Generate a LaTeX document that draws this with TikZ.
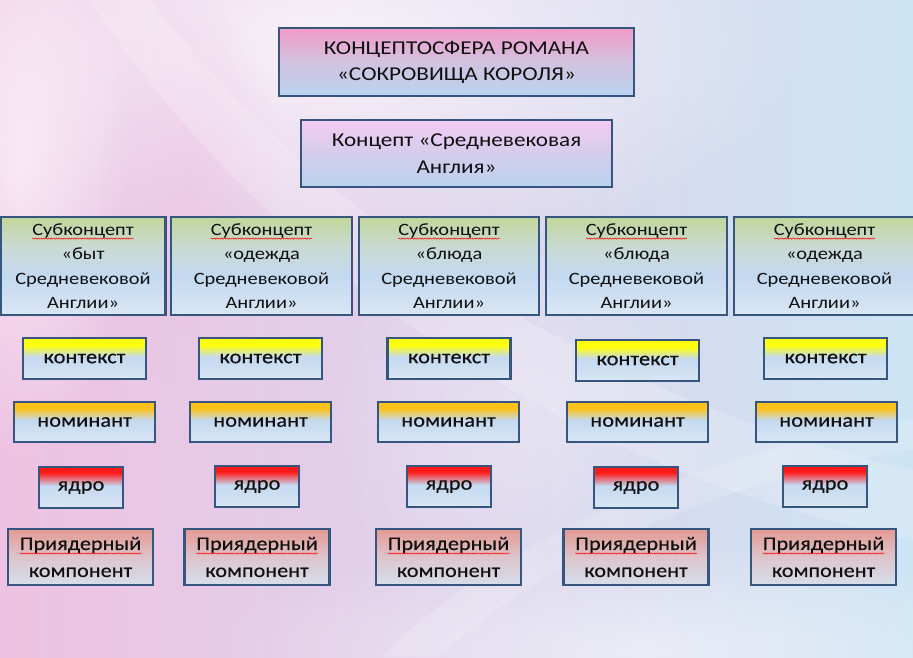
\documentclass[tikz,border=0pt]{standalone}
\usepackage{fontspec}
\setmainfont[FakeStretch=1.18]{Carlito}
\newfontfamily\heavy[FakeStretch=1.15, FakeBold=0.4]{Carlito}
\usetikzlibrary{decorations.pathmorphing,fadings}
\definecolor{bord}{HTML}{37567F}
\definecolor{txt}{HTML}{101010}
\definecolor{lb}{HTML}{C4D9F0}
\definecolor{lbw}{HTML}{D9E6F4}
\definecolor{pinkt}{HTML}{F39BC7}
\definecolor{lavm}{HTML}{D2C2E0}
\definecolor{lbb}{HTML}{BAD3EE}
\definecolor{pinkl}{HTML}{F4CBF4}
\definecolor{lavl}{HTML}{D7CCEC}
\definecolor{olive}{HTML}{C2D69A}
\definecolor{olm}{HTML}{C9DAD2}
\definecolor{yel}{HTML}{FFFF10}
\definecolor{orng}{HTML}{FDC21A}
\definecolor{redc}{HTML}{FF1A1A}
\definecolor{salm}{HTML}{E49A92}
\definecolor{salmm}{HTML}{DDC4CB}
\definecolor{grb}{HTML}{D5DFEC}
\definecolor{bgl}{HTML}{EEC2E2}
\definecolor{bgm}{HTML}{E6D6EE}
\definecolor{bgr}{HTML}{CDE4F4}
\pgfdeclareverticalshading{topsh}{100bp}{color(0bp)=(lbb); color(25bp)=(lbb); color(50bp)=(lavm); color(75bp)=(pinkt); color(100bp)=(pinkt)}
\pgfdeclareverticalshading{consh}{100bp}{color(0bp)=(lbb); color(25bp)=(lbb); color(52bp)=(lavl); color(75bp)=(pinkl); color(100bp)=(pinkl)}
\pgfdeclareverticalshading{subsh}{100bp}{color(0bp)=(lbw); color(25bp)=(lbw); color(45bp)=(lb); color(60bp)=(olm); color(75bp)=(olive); color(100bp)=(olive)}
\pgfdeclareverticalshading{ctxsh}{100bp}{color(0bp)=(lbw); color(25bp)=(lbw); color(52bp)=(lb); color(66bp)=(yel); color(100bp)=(yel)}
\pgfdeclareverticalshading{nomsh}{100bp}{color(0bp)=(lbw); color(25bp)=(lbw); color(52bp)=(lb); color(67bp)=(orng); color(100bp)=(orng)}
\pgfdeclareverticalshading{coresh}{100bp}{color(0bp)=(lbw); color(25bp)=(lbw); color(52bp)=(lb); color(68bp)=(redc); color(100bp)=(redc)}
\pgfdeclareverticalshading{prish}{100bp}{color(0bp)=(grb); color(25bp)=(grb); color(50bp)=(salmm); color(75bp)=(salm); color(100bp)=(salm)}
\tikzfading[name=fadeC, inner color=transparent!0, outer color=transparent!100]
\tikzset{
  wavy/.style={draw=red, line width=0.5pt, decorate, decoration={snake, amplitude=0.6pt, segment length=2.6pt}},
  bx/.style={draw=bord, line width=2.3pt, inner sep=0pt, align=center, text=txt},
  topbox/.style={bx, shading=topsh, minimum width=355pt, minimum height=68pt, font=\fontsize{19.6}{26}\selectfont},
  conbox/.style={bx, shading=consh, minimum width=311pt, minimum height=67pt, font=\fontsize{19.6}{27}\selectfont},
  subbox/.style={bx, shading=subsh, minimum height=98pt, font=\fontsize{17.3}{24.5}\selectfont},
  ctxbox/.style={bx, shading=ctxsh, minimum width=123pt, minimum height=41pt, font=\heavy\fontsize{19.5}{20}\selectfont},
  nombox/.style={bx, shading=nomsh, minimum width=141pt, minimum height=40pt, font=\heavy\fontsize{19.5}{20}\selectfont},
  corebox/.style={bx, shading=coresh, minimum width=84pt, minimum height=41pt, font=\heavy\fontsize{19.5}{20}\selectfont},
  pribox/.style={bx, shading=prish, minimum width=145pt, minimum height=56pt, font=\heavy\fontsize{19.3}{27}\selectfont},
  blob/.style={fill=white, path fading=fadeC},
}
\newcommand\wv[1]{\tikz[baseline=(wvn.base)]{\node[inner sep=0pt,outer sep=0pt,minimum width=0pt,minimum height=0pt,draw=none,fill=none](wvn){#1};\draw[wavy] ([yshift=-3.5pt]wvn.base west) -- ([yshift=-3.5pt]wvn.base east);}}
\begin{document}
\begin{tikzpicture}[x=1pt,y=-1pt]
\useasboundingbox (0,0) rectangle (913,657);
% background
\shade[left color=bgl, middle color=bgm, right color=bgr] (0,0) rectangle (913,657);
\fill[blob, opacity=0.75] (330,40) ellipse [x radius=480, y radius=230];
\fill[blob, opacity=0.6] (20,160) ellipse [x radius=110, y radius=300];
\fill[bgl, path fading=fadeC, opacity=0.5] (190,190) ellipse [x radius=90, y radius=200];
\fill[blob, opacity=0.5] (640,650) ellipse [x radius=430, y radius=110];
\fill[blob, opacity=0.3] (520,420) ellipse [x radius=200, y radius=200];
\fill[white, opacity=0.18] (150,0) .. controls (320,220) and (600,400) .. (913,470) -- (913,540) .. controls (560,470) and (260,260) .. (90,0) -- cycle;
\fill[white, opacity=0.15] (380,657) .. controls (500,540) and (700,450) .. (913,420) -- (913,450) .. controls (720,480) and (540,560) .. (440,657) -- cycle;
% top
\node[topbox] (top) at (456.5,62) {КОНЦЕПТОСФЕРА РОМАНА\\«СОКРОВИЩА КОРОЛЯ»};
\node[conbox] (con) at (456.5,153.5) {Концепт «Средневековая\\Англия»};
% subconcepts
\node[subbox, minimum width=165pt] (s1) at (83,266) {\wv{Субконцепт}\\«быт\\Средневековой\\Англии»};
\node[subbox, minimum width=181pt] (s2) at (261.5,266) {\wv{Субконцепт}\\«одежда\\Средневековой\\Англии»};
\node[subbox, minimum width=180pt] (s3) at (449,266) {\wv{Субконцепт}\\«блюда\\Средневековой\\Англии»};
\node[subbox, minimum width=181pt] (s4) at (636.5,266) {\wv{Субконцепт}\\«блюда\\Средневековой\\Англии»};
\node[subbox, minimum width=181pt] (s5) at (824.5,266) {\wv{Субконцепт}\\«одежда\\Средневековой\\Англии»};
% context
\node[ctxbox] (c1) at (84.5,358.5) {контекст};
\node[ctxbox] (c2) at (260.5,358.5) {контекст};
\node[ctxbox] (c3) at (449,358.5) {контекст};
\node[ctxbox] (c4) at (637.5,360.5) {контекст};
\node[ctxbox] (c5) at (825.5,358.5) {контекст};
% nominant
\node[nombox] (n1) at (84.5,422) {номинант};
\node[nombox] (n2) at (260.5,422) {номинант};
\node[nombox] (n3) at (448.5,422) {номинант};
\node[nombox] (n4) at (637.5,422) {номинант};
\node[nombox] (n5) at (826.5,422) {номинант};
% core
\node[corebox] (k1) at (81,487.5) {ядро};
\node[corebox] (k2) at (257,486.5) {ядро};
\node[corebox] (k3) at (449,486.5) {ядро};
\node[corebox] (k4) at (636,487.5) {ядро};
\node[corebox] (k5) at (825,486.5) {ядро};
% periphery
\node[pribox] (p1) at (80.5,557) {\wv{Приядерный}\\компонент};
\node[pribox] (p2) at (257,557) {\wv{Приядерный}\\компонент};
\node[pribox] (p3) at (448.5,557) {\wv{Приядерный}\\компонент};
\node[pribox] (p4) at (636,557) {\wv{Приядерный}\\компонент};
\node[pribox] (p5) at (823.5,557) {\wv{Приядерный}\\компонент};
\end{tikzpicture}
\end{document}
